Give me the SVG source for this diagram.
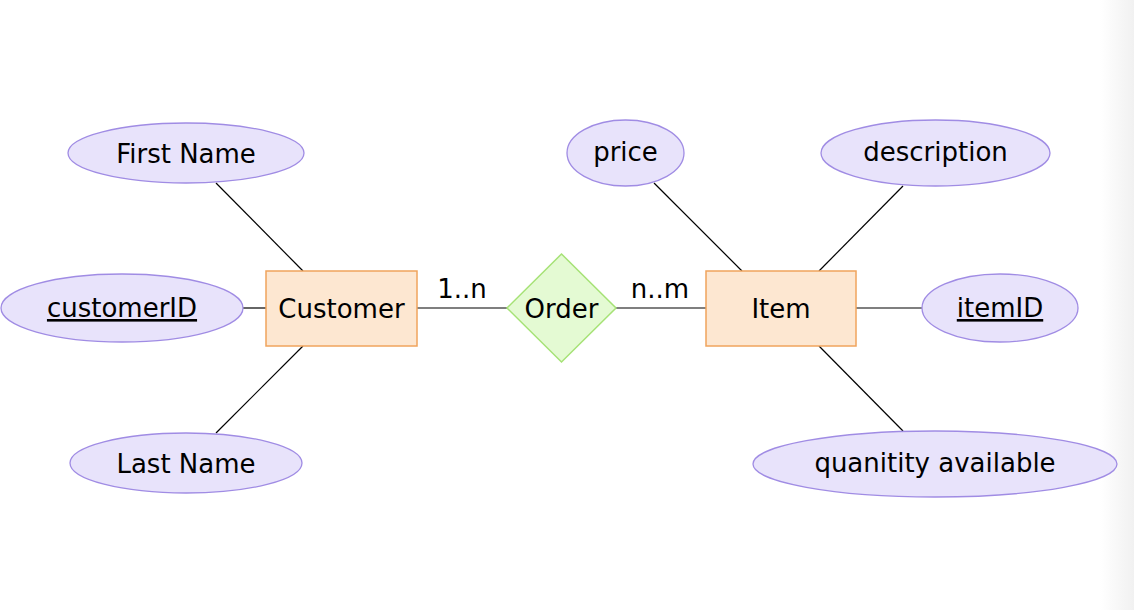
<svg xmlns="http://www.w3.org/2000/svg" width="1134" height="610" viewBox="0 0 1134 610">
<defs>
<linearGradient id="edge" x1="0" y1="0" x2="1" y2="0">
<stop offset="0" stop-color="#ffffff"/>
<stop offset="1" stop-color="#f1f1f1"/>
</linearGradient>
<style>
.attr{fill:#e8e3fb;stroke:#a08ce4;stroke-width:1.3}
.ent{fill:#fde7d1;stroke:#f0a45c;stroke-width:1.5}
.rel{fill:#e4fad3;stroke:#a6e276;stroke-width:1.5}
.ln{stroke:#000;stroke-width:1.2;fill:none}
text{font-family:"DejaVu Sans","Liberation Sans",sans-serif;font-size:26px;fill:#000;text-anchor:middle}
.key{text-decoration:underline}
</style>
</defs>
<rect x="0" y="0" width="1134" height="610" fill="#ffffff"/>
<rect x="1100" y="0" width="34" height="610" fill="url(#edge)"/>
<g id="connectors">
<line class="ln" x1="216" y1="183" x2="303" y2="271"/>
<line class="ln" x1="243" y1="308" x2="266" y2="308"/>
<line class="ln" x1="303" y1="346" x2="216" y2="433"/>
<line class="ln" x1="417" y1="308" x2="507" y2="308"/>
<line class="ln" x1="616" y1="308" x2="706" y2="308"/>
<line class="ln" x1="654" y1="183" x2="742" y2="271"/>
<line class="ln" x1="903" y1="186" x2="819" y2="271"/>
<line class="ln" x1="856" y1="308" x2="922" y2="308"/>
<line class="ln" x1="819" y1="346" x2="903" y2="431"/>
<text x="462" y="298">1..n</text>
<text x="660" y="298">n..m</text>
</g>
<g id="first-name">
<ellipse class="attr" cx="186" cy="153" rx="118" ry="30"/>
<text x="186" y="163">First Name</text>
</g>
<g id="customer-id">
<ellipse class="attr" cx="122" cy="308" rx="121" ry="34"/>
<text class="key" x="122" y="317">customerID</text>
</g>
<g id="last-name">
<ellipse class="attr" cx="186" cy="463" rx="116" ry="30"/>
<text x="186" y="473">Last Name</text>
</g>
<g id="customer">
<rect class="ent" x="266" y="271" width="151" height="75"/>
<text x="341.5" y="318">Customer</text>
</g>
<g id="order">
<polygon class="rel" points="561.5,254 616,308 561.5,362 507,308"/>
<text x="561.5" y="318">Order</text>
</g>
<g id="item">
<rect class="ent" x="706" y="271" width="150" height="75"/>
<text x="781" y="318">Item</text>
</g>
<g id="price">
<ellipse class="attr" cx="625.5" cy="153" rx="58.5" ry="33"/>
<text x="625.5" y="161">price</text>
</g>
<g id="description">
<ellipse class="attr" cx="935.5" cy="153" rx="114.5" ry="33"/>
<text x="935.5" y="161">description</text>
</g>
<g id="item-id">
<ellipse class="attr" cx="1000" cy="308" rx="78" ry="34"/>
<text class="key" x="1000" y="317">itemID</text>
</g>
<g id="quantity-available">
<ellipse class="attr" cx="935" cy="464" rx="182" ry="33"/>
<text x="935" y="472">quanitity available</text>
</g>
</svg>
